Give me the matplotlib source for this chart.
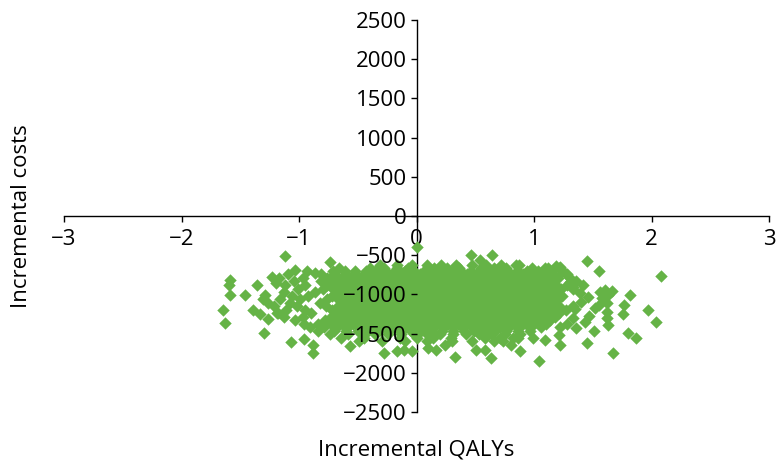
import matplotlib.pyplot as plt

# dense part of the cloud, read row by row (cost level -> QALY values)
core_cost = [-625, -665, -705, -745, -790, -835, -880, -925, -970, -1015, -1060,
             -1105, -1150, -1195, -1240, -1285, -1330, -1375, -1420, -1465,
             -1510, -1555, -1600]
core_qaly = [
    [-0.31, -0.17, -0.04, 0.09, 0.21, 0.34, 0.47, 0.59, 0.72, 0.87],
    [-0.66, -0.40, -0.28, -0.17, -0.07, 0.15, 0.26, 0.36, 0.55, 0.66, 0.76, 0.98, 1.09, 1.21],
    [-0.93, -0.71, -0.61, -0.52, -0.43, -0.35, -0.26, -0.18, -0.10, -0.02, 0.06, 0.14, 0.22, 0.30, 0.38, 0.46, 0.54, 0.62, 0.70, 0.78, 0.86, 0.94, 1.03, 1.12, 1.24],
    [-1.09, -0.81, -0.70, -0.61, -0.53, -0.45, -0.37, -0.29, -0.21, -0.13, -0.05, 0.03, 0.11, 0.19, 0.27, 0.35, 0.43, 0.51, 0.59, 0.67, 0.75, 0.83, 0.91, 0.99, 1.07, 1.16, 1.28],
    [-1.17, -0.97, -0.76, -0.67, -0.58, -0.49, -0.41, -0.33, -0.25, -0.17, -0.09, -0.01, 0.07, 0.15, 0.23, 0.31, 0.39, 0.47, 0.55, 0.63, 0.71, 0.79, 0.87, 0.95, 1.03, 1.11, 1.20, 1.31],
    [-1.04, -0.81, -0.72, -0.63, -0.54, -0.45, -0.37, -0.29, -0.21, -0.13, -0.05, 0.03, 0.11, 0.19, 0.27, 0.35, 0.43, 0.51, 0.59, 0.67, 0.75, 0.83, 0.91, 0.99, 1.07, 1.15, 1.36],
    [-1.12, -0.95, -0.76, -0.67, -0.58, -0.49, -0.41, -0.33, -0.25, -0.17, -0.09, -0.01, 0.07, 0.15, 0.23, 0.31, 0.39, 0.47, 0.55, 0.63, 0.71, 0.79, 0.87, 0.95, 1.03, 1.11, 1.19, 1.28],
    [-1.01, -0.80, -0.71, -0.62, -0.53, -0.45, -0.37, -0.29, -0.21, -0.13, -0.05, 0.03, 0.11, 0.19, 0.27, 0.35, 0.43, 0.51, 0.59, 0.67, 0.75, 0.83, 0.91, 0.99, 1.07, 1.15, 1.23, 1.33],
    [-1.13, -0.86, -0.67, -0.58, -0.49, -0.41, -0.33, -0.25, -0.17, -0.09, -0.01, 0.07, 0.15, 0.23, 0.31, 0.39, 0.47, 0.55, 0.63, 0.71, 0.79, 0.87, 0.95, 1.03, 1.11, 1.19],
    [-1.06, -0.92, -0.72, -0.63, -0.54, -0.45, -0.37, -0.29, -0.21, -0.13, -0.05, 0.03, 0.11, 0.19, 0.27, 0.35, 0.43, 0.51, 0.59, 0.67, 0.75, 0.83, 0.91, 0.99, 1.07, 1.15, 1.24],
    [-1.31, -1.16, -0.99, -0.76, -0.67, -0.58, -0.49, -0.41, -0.33, -0.25, -0.17, -0.09, -0.01, 0.07, 0.15, 0.23, 0.31, 0.39, 0.47, 0.55, 0.63, 0.71, 0.79, 0.87, 0.95, 1.03, 1.11, 1.20],
    [-1.08, -0.82, -0.63, -0.54, -0.45, -0.37, -0.29, -0.21, -0.13, -0.05, 0.03, 0.11, 0.19, 0.27, 0.35, 0.43, 0.51, 0.59, 0.67, 0.75, 0.83, 0.91, 0.99, 1.07, 1.15],
    [-1.21, -1.02, -0.77, -0.67, -0.58, -0.49, -0.41, -0.33, -0.25, -0.17, -0.09, -0.01, 0.07, 0.15, 0.23, 0.31, 0.39, 0.47, 0.55, 0.63, 0.71, 0.79, 0.87, 0.95, 1.03, 1.11, 1.21, 1.33],
    [-1.11, -0.95, -0.72, -0.63, -0.54, -0.45, -0.37, -0.29, -0.21, -0.13, -0.05, 0.03, 0.11, 0.19, 0.27, 0.35, 0.43, 0.51, 0.59, 0.67, 0.75, 0.83, 0.91, 0.99, 1.07, 1.16, 1.27],
    [-1.18, -0.90, -0.68, -0.58, -0.49, -0.41, -0.33, -0.25, -0.17, -0.09, -0.01, 0.07, 0.15, 0.23, 0.31, 0.39, 0.47, 0.55, 0.63, 0.71, 0.79, 0.87, 0.95, 1.03, 1.12],
    [-1.13, -0.97, -0.73, -0.63, -0.54, -0.45, -0.37, -0.29, -0.21, -0.13, -0.05, 0.03, 0.11, 0.19, 0.27, 0.35, 0.43, 0.51, 0.59, 0.67, 0.75, 0.83, 0.91, 0.99, 1.08, 1.18],
    [-1.03, -0.78, -0.68, -0.58, -0.49, -0.41, -0.33, -0.25, -0.17, -0.09, -0.01, 0.07, 0.15, 0.23, 0.31, 0.39, 0.47, 0.55, 0.63, 0.71, 0.79, 0.87, 0.95, 1.04, 1.14],
    [-0.96, -0.84, -0.73, -0.63, -0.54, -0.45, -0.37, -0.29, -0.21, -0.13, -0.05, 0.03, 0.11, 0.19, 0.27, 0.35, 0.43, 0.51, 0.59, 0.67, 0.75, 0.83, 0.91, 1.00, 1.10],
    [-0.91, -0.79, -0.68, -0.58, -0.49, -0.41, -0.33, -0.25, -0.17, -0.09, -0.01, 0.07, 0.15, 0.23, 0.31, 0.39, 0.47, 0.55, 0.63, 0.71, 0.79, 0.87, 0.96, 1.06],
    [-0.84, -0.70, -0.60, -0.50, -0.41, -0.32, -0.23, -0.14, -0.05, 0.04, 0.13, 0.22, 0.31, 0.40, 0.49, 0.58, 0.67, 0.76, 0.86, 0.97],
    [-0.74, -0.58, -0.46, -0.35, -0.24, -0.13, -0.02, 0.09, 0.20, 0.31, 0.42, 0.53, 0.64, 0.75, 0.88],
    [-0.64, -0.45, -0.14, 0.00, 0.14, 0.29, 0.58, 0.71, 0.86],
    [-0.49, -0.29, -0.10, 0.09, 0.30, 0.47, 0.66],
]

# scattered points around the cloud
edge_qaly = [-1.12, -0.74, 0.00, 0.46, 0.64, 0.54, 1.45, 1.55, 2.08, -1.59, -1.60, -1.59,
             -1.46, -1.36, -1.65, -1.63, -1.39, -1.33, -1.26, -1.30, -1.23, -1.20, -1.03,
             -0.86, -1.26, -1.19, -1.29, -1.07, -0.96, -0.88, -0.88, -0.57, -0.28, -0.17,
             -0.11, -0.04, 0.10, 0.17, 0.24, 0.33, 0.51, 0.58, 0.63, 0.74, 0.80, 0.82,
             0.88, 0.99, 1.04, 1.09, 1.21, 1.22, 1.22, 1.21, 1.43, 1.36, 1.51, 1.45,
             1.62, 1.63, 1.675, 1.80, 1.865, 1.82, 1.77, 1.76, 1.97, 2.04, 1.22, 1.26,
             1.31, 1.33, 1.42, 1.39, 1.46, 1.56, 1.60, 1.66, 1.63, 1.58, 1.55, 1.62,
             1.62, 1.52, 1.12, 1.19, 0.85, 1.40, 1.35, 1.47, 1.33, 1.28]
edge_cost = [-510, -590, -400, -495, -495, -555, -580, -700, -770, -815, -885, -1005,
             -1005, -880, -1205, -1360, -1205, -1250, -1315, -1490, -775, -855, -690,
             -725, -1110, -1237, -1005, -1610, -1570, -1645, -1750, -1660, -1748, -1725,
             -1705, -1725, -1685, -1705, -1640, -1800, -1705, -1705, -1810, -1600, -1640, -1555,
             -1718, -1556, -1845, -1577, -1514, -1641, -1412, -1241, -1356, -1433, -1467, -1624,
             -1297, -1390, -1743, -1496, -1552, -1008, -1135, -1254, -1199, -1356, -646, -731,
             -838, -902, -880, -986, -1029, -965, -944, -957, -1008, -1050, -1135, -1114,
             -1221, -1178, -663, -638, -620, -1100, -1180, -1270, -1300, -1380]

qaly = []
cost = []
for c, xs in zip(core_cost, core_qaly):
    qaly += xs
    cost += [c] * len(xs)
qaly += edge_qaly
cost += edge_cost

plt.rcParams['font.family'] = ['Open Sans', 'DejaVu Sans']

fig = plt.figure(figsize=(7.77, 4.61), dpi=100)
ax = fig.add_axes([0.0824, 0.1063, 0.9073, 0.8503])

ax.scatter(qaly, cost, marker='D', s=40, color='#65b346', linewidths=0, zorder=2.6)

ax.set_xlim(-3, 3)
ax.set_ylim(-2500, 2500)
ax.set_xticks([-3, -2, -1, 0, 1, 2, 3])
ax.set_yticks(range(-2500, 2501, 500))

ax.spines['left'].set_position(('data', 0))
ax.spines['bottom'].set_position(('data', 0))
ax.spines['top'].set_visible(False)
ax.spines['right'].set_visible(False)
for s in ['left', 'bottom']:
    ax.spines[s].set_linewidth(1.0)

ax.tick_params(axis='both', direction='out', length=4, width=1.0, labelsize=16)
ax.tick_params(axis='x', pad=5)
ax.tick_params(axis='y', pad=3)
ax.yaxis.set_zorder(3)

ax.set_xlabel('Incremental QALYs', fontsize=16)
ax.set_ylabel('Incremental costs', fontsize=16)
ax.xaxis.set_label_coords(0.5, -0.097)
ax.xaxis.label.set_va('center')
ax.yaxis.set_label_coords(-0.06, 0.5)
ax.yaxis.label.set_va('center')

fig.savefig('out.png', dpi=100)
